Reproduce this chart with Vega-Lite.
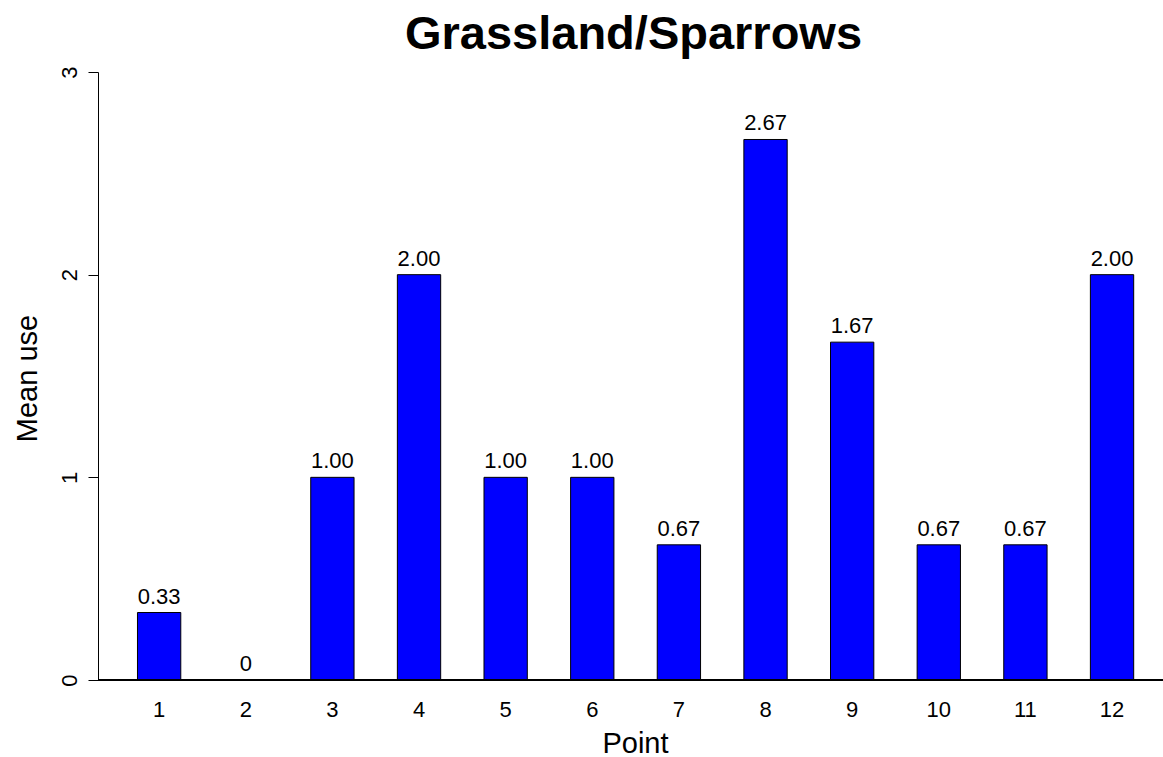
{
  "$schema": "https://vega.github.io/schema/vega-lite/v6.json",
  "width": 1065,
  "height": 608,
  "autosize": {"type": "none"},
  "padding": {"left": 98, "top": 72, "right": 0, "bottom": 77},
  "background": "white",
  "title": {
    "text": "Grassland/Sparrows",
    "fontSize": 47,
    "font": "Liberation Sans",
    "fontWeight": "bold",
    "color": "black",
    "anchor": "middle",
    "frame": "group",
    "baseline": "alphabetic",
    "offset": 26,
    "dy": 56,
    "dx": 3
  },
  "config": {
    "view": {"stroke": null},
    "font": "Liberation Sans",
    "axis": {"labelFont": "Liberation Sans", "titleFont": "Liberation Sans", "grid": false}
  },
  "data": {
    "values": [
      {"Point": "1", "Mean": 0.333, "label": "0.33"},
      {"Point": "2", "Mean": 0, "label": "0"},
      {"Point": "3", "Mean": 1, "label": "1.00"},
      {"Point": "4", "Mean": 2, "label": "2.00"},
      {"Point": "5", "Mean": 1, "label": "1.00"},
      {"Point": "6", "Mean": 1, "label": "1.00"},
      {"Point": "7", "Mean": 0.667, "label": "0.67"},
      {"Point": "8", "Mean": 2.667, "label": "2.67"},
      {"Point": "9", "Mean": 1.667, "label": "1.67"},
      {"Point": "10", "Mean": 0.667, "label": "0.67"},
      {"Point": "11", "Mean": 0.667, "label": "0.67"},
      {"Point": "12", "Mean": 2, "label": "2.00"}
    ]
  },
  "layer": [
    {
      "mark": {"type": "bar", "color": "#0000FF", "stroke": "black", "strokeWidth": 1},
      "encoding": {
        "x": {
          "field": "Point",
          "type": "ordinal",
          "sort": null,
          "scale": {"paddingInner": 0.5, "paddingOuter": 0.397, "align": 0.574},
          "axis": {
            "title": "Point",
            "labelAngle": 0,
            "ticks": false,
            "domain": false,
            "labelPadding": 19,
            "labelFontSize": 22,
            "labelColor": "black",
            "titleFontSize": 29,
            "titleFontWeight": "normal",
            "titleColor": "black",
            "titleBaseline": "alphabetic",
            "titleY": 72,
            "titleX": 537
          }
        },
        "y": {
          "field": "Mean",
          "type": "quantitative",
          "scale": {"domain": [0, 3], "nice": false},
          "axis": {
            "title": "Mean use",
            "values": [0, 1, 2, 3],
            "format": "d",
            "tickSize": 10,
            "tickColor": "black",
            "tickWidth": 1,
            "domainColor": "black",
            "domainWidth": 1,
            "labelAngle": 270,
            "labelAlign": "center",
            "labelBaseline": "alphabetic",
            "labelPadding": 12,
            "labelFontSize": 22,
            "labelColor": "black",
            "titleFontSize": 29,
            "titleFontWeight": "normal",
            "titleColor": "black",
            "titleBaseline": "alphabetic",
            "titleX": -62,
            "titleY": 306
          }
        }
      }
    },
    {
      "mark": {"type": "rule", "color": "black", "strokeWidth": 1},
      "encoding": {"y": {"datum": 0}}
    },
    {
      "mark": {"type": "text", "baseline": "alphabetic", "dy": -9, "fontSize": 22, "color": "black", "font": "Liberation Sans"},
      "encoding": {
        "x": {"field": "Point", "type": "ordinal", "sort": null},
        "y": {"field": "Mean", "type": "quantitative"},
        "text": {"field": "label"}
      }
    }
  ]
}
